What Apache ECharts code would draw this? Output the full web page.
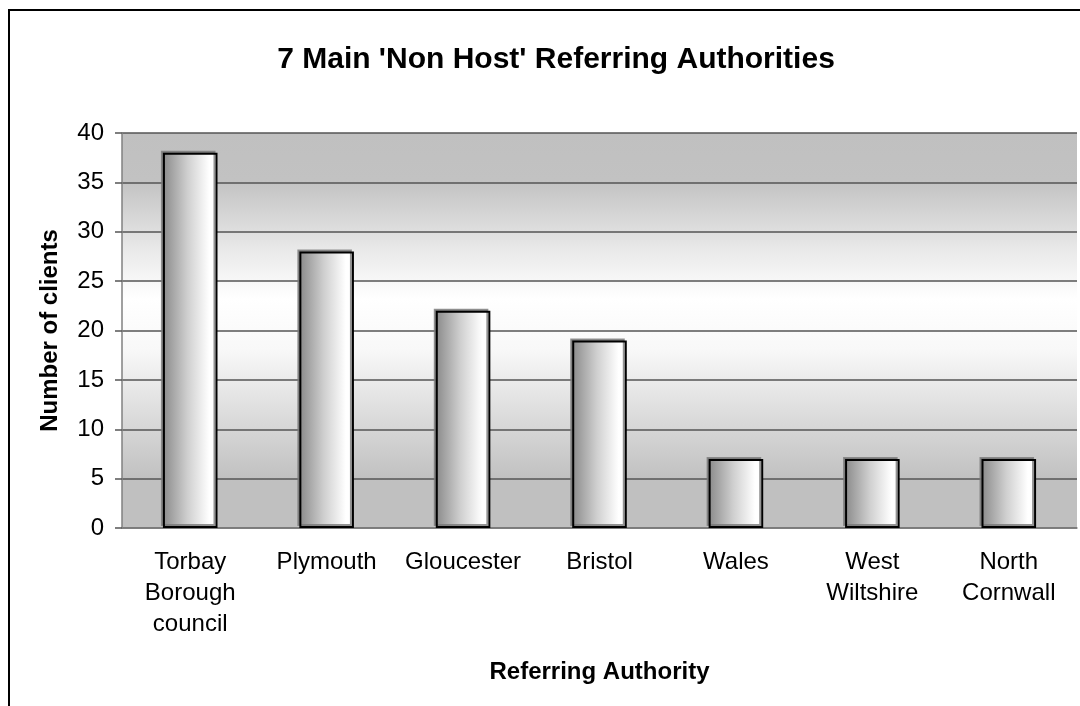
<!DOCTYPE html>
<html>
<head>
<meta charset="utf-8">
<style>
  html, body { margin: 0; padding: 0; background: #ffffff; }
  #chart { width: 1080px; height: 706px; }
</style>
<script src="https://cdn.jsdelivr.net/npm/echarts@6/dist/echarts.min.js"></script>
</head>
<body>
<div id="chart"></div>
<script>
const categories = [
  "Torbay\nBorough\ncouncil",
  "Plymouth",
  "Gloucester",
  "Bristol",
  "Wales",
  "West\nWiltshire",
  "North\nCornwall"
]
const clients = [38, 28, 22, 19, 7, 7, 7]
const yTicks = { min: 0, max: 40, interval: 5 }

const chart = echarts.init(document.getElementById("chart"))

const font = "'Liberation Sans', Arial, sans-serif"

// plot area: grey top and bottom, fading to white in the middle
const plotFill = new echarts.graphic.LinearGradient(0, 0, 0, 1, [
  { offset: 0, color: "#c0c0c0" },
  { offset: 0.12, color: "#c2c2c2" },
  { offset: 0.3, color: "#eaeaea" },
  { offset: 0.42, color: "#ffffff" },
  { offset: 0.55, color: "#f8f8f8" },
  { offset: 0.75, color: "#d6d6d6" },
  { offset: 0.88, color: "#c0c0c0" },
  { offset: 1, color: "#c0c0c0" }
])

// bars: dark grey on the left to white on the right
const barFill = new echarts.graphic.LinearGradient(0, 0, 1, 0, [
  { offset: 0, color: "#8a8a8a" },
  { offset: 0.45, color: "#cfcfcf" },
  { offset: 0.85, color: "#ffffff" },
  { offset: 1, color: "#ffffff" }
])

const option = {
  backgroundColor: "#ffffff",
  animation: false,
  title: {
    text: "7 Main 'Non Host' Referring Authorities",
    left: 551,
    textAlign: "center",
    top: 40,
    textStyle: { fontFamily: font, fontSize: 30, fontWeight: "bold", color: "#000" }
  },
  graphic: [
    {
      type: "rect",
      shape: { x: 9, y: 10, width: 1100, height: 720 },
      style: { fill: "none", stroke: "#000", lineWidth: 2 },
      silent: true,
      z: -1
    }
  ],
  grid: {
    left: 122,
    right: 3,
    top: 133,
    bottom: 178,
    show: true,
    backgroundColor: plotFill,
    borderWidth: 0
  },
  xAxis: {
    type: "category",
    data: categories,
    name: "Referring Authority",
    nameLocation: "middle",
    nameGap: 132,
    nameTextStyle: { fontFamily: font, fontSize: 24, fontWeight: "bold", color: "#000" },
    axisLine: { lineStyle: { color: "#808080", width: 1.5 } },
    axisTick: { length: 7, lineStyle: { color: "#555", width: 1.5 } },
    axisLabel: {
      interval: 0,
      margin: 19,
      fontFamily: font,
      fontSize: 24,
      lineHeight: 31,
      color: "#000"
    }
  },
  yAxis: {
    type: "value",
    min: yTicks.min,
    max: yTicks.max,
    interval: yTicks.interval,
    name: "Number of clients",
    nameLocation: "middle",
    nameGap: 60,
    nameTextStyle: { fontFamily: font, fontSize: 24, fontWeight: "bold", color: "#000" },
    axisLine: { show: true, lineStyle: { color: "#808080", width: 1.5 } },
    axisTick: { show: true, length: 7, lineStyle: { color: "#555", width: 1.5 } },
    axisLabel: { margin: 18, fontFamily: font, fontSize: 24, color: "#000" },
    splitLine: { lineStyle: { color: "#555555", width: 1.5 } }
  },
  series: [
    {
      type: "bar",
      data: clients,
      barWidth: "40%",
      itemStyle: {
        color: barFill,
        borderColor: "#000",
        borderWidth: 2,
        shadowColor: "rgba(120,120,120,0.8)",
        shadowOffsetX: -2,
        shadowOffsetY: -2,
        shadowBlur: 0
      }
    }
  ]
}

chart.setOption(option)
</script>
</body>
</html>
